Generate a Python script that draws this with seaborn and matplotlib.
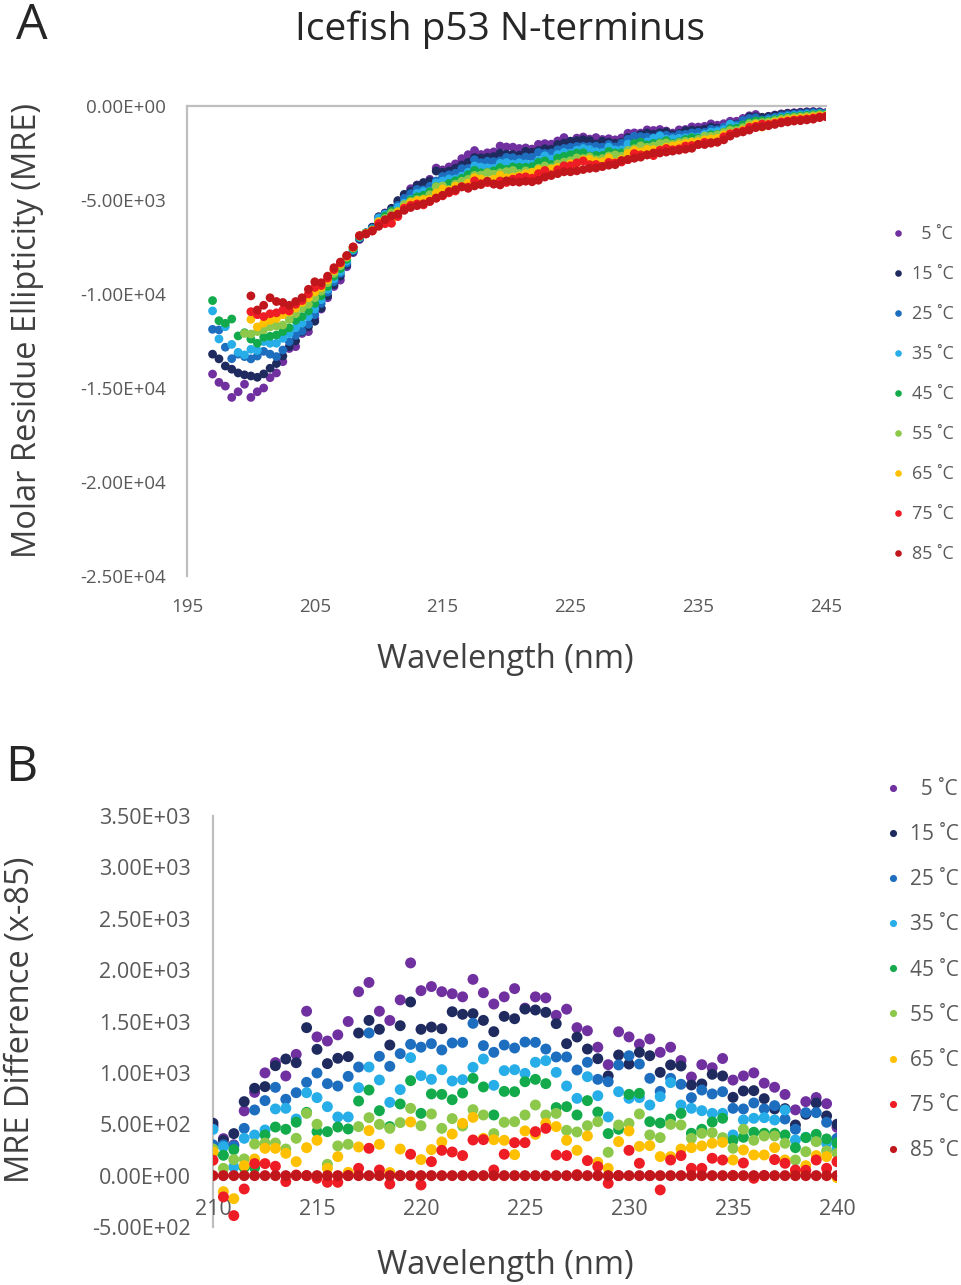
import numpy as np
import pandas as pd
import matplotlib
matplotlib.use("Agg")
import matplotlib.pyplot as plt
import seaborn as sns
from matplotlib.ticker import FuncFormatter, MultipleLocator, FixedLocator

sns.set_theme(style="white")
plt.rcParams["font.family"] = ["Open Sans", "DejaVu Sans"]

# ---------------- data ----------------
temp_labels = ["  5 \u02daC", "15 \u02daC", "25 \u02daC", "35 \u02daC", "45 \u02daC",
               "55 \u02daC", "65 \u02daC", "75 \u02daC", "85 \u02daC"]
colors = ["#7030A0", "#1F2A5E", "#1E6EC0", "#27AEE8", "#12AA4A",
          "#8DC84A", "#FFC000", "#EE1C24", "#C0161C"]

wl_a = np.arange(197.0, 245.01, 0.5)   # scan grid, panel A
wl_b = np.arange(210.0, 240.01, 0.5)   # scan grid, panel B
xticks_a = [195, 205, 215, 225, 235, 245]

N = np.nan
# Panel A: molar residue ellipticity, units of 1e3
mre_5 = [-14.26, -14.70, -14.90, -15.50, -15.20, -14.80, -15.50, -15.20, -15.00, -14.45,
         -14.20, -13.60, -12.90, -12.80, -12.10, -12.00, -11.30, -10.80, -10.20, -9.60,
         -9.26, -8.55, -7.80, -7.10, -6.80, -6.45, -5.92, -5.69, -5.55, -5.12,
         -4.74, -4.40, -4.20, -4.23, -3.90, -3.30, -3.40, -3.24, -3.08, -2.80,
         -2.59, -2.37, -2.58, -2.49, -2.44, -2.13, -2.18, -2.19, -2.26, -2.23,
         -2.29, -2.04, -2.00, -2.03, -1.86, -1.68, -1.87, -1.71, -1.65, -1.76,
         -1.68, -1.78, -1.74, -1.80, -1.70, -1.45, -1.43, -1.44, -1.27, -1.30,
         -1.25, -1.33, -1.44, -1.27, -1.25, -1.11, -1.12, -1.08, -0.95, -1.02,
         -0.94, -0.81, -0.81, -0.66, -0.52, -0.45, -0.63, -0.55, -0.48, -0.42,
         -0.38, -0.36, -0.33, -0.31, -0.30, -0.31, -0.35]
mre_15 = [-13.20, -13.45, -13.83, -14.00, -14.20, -14.30, -14.36, -14.43, -14.25, -13.95,
          -13.70, -13.30, -12.80, -12.50, -12.00, -11.75, -11.45, -10.75, -10.10, -9.50,
          -9.05, -8.45, -7.75, -7.05, -6.75, -6.45, -5.89, -5.71, -5.44, -5.03,
          -4.70, -4.53, -4.23, -4.07, -3.98, -3.46, -3.52, -3.46, -3.31, -3.14,
          -2.99, -2.74, -2.76, -2.73, -2.69, -2.51, -2.56, -2.58, -2.62, -2.41,
          -2.46, -2.37, -2.27, -2.30, -2.05, -1.97, -1.88, -1.84, -1.79, -1.84,
          -2.02, -1.87, -1.92, -1.98, -1.93, -1.68, -1.69, -1.52, -1.43, -1.50,
          -1.42, -1.38, -1.52, -1.46, -1.31, -1.28, -1.29, -1.23, -1.12, -1.17,
          -1.15, -0.95, -0.96, -0.78, -0.57, -0.57, -0.60, -0.56, -0.50, -0.45,
          -0.40, -0.38, -0.36, -0.33, -0.32, -0.33, -0.38]
mre_25 = [-11.88, -11.91, -12.83, -13.44, -13.20, -13.33, -13.45, -13.30, -13.05, -13.20,
          -13.33, -12.98, -12.53, -12.20, -11.97, -11.61, -11.10, -10.50, -9.90, -9.35,
          -8.90, -8.35, -7.70, -7.00, -6.75, -6.50, -6.10, -5.75, -5.56, -5.29,
          -4.91, -4.67, -4.44, -4.46, -4.27, -3.99, -3.75, -3.66, -3.58, -3.33,
          -3.32, -2.86, -3.02, -2.94, -2.96, -2.92, -2.73, -2.75, -2.83, -2.71,
          -2.73, -2.47, -2.52, -2.50, -2.33, -2.26, -2.20, -2.15, -2.15, -2.16,
          -2.14, -2.19, -2.05, -2.18, -1.99, -1.77, -1.61, -1.63, -1.65, -1.68,
          -1.55, -1.56, -1.64, -1.52, -1.51, -1.43, -1.40, -1.40, -1.24, -1.27,
          -1.12, -1.05, -1.00, -0.77, -0.67, -0.63, -0.74, -0.66, -0.60, -0.52,
          -0.47, -0.44, -0.41, -0.38, -0.36, -0.36, -0.40]
mre_35 = [-10.90, -12.39, -11.74, -12.68, -13.10, -13.24, -12.94, -13.00, -12.53, -12.62,
          -12.62, -12.36, -12.10, -11.80, -11.55, -11.20, -10.80, -10.30, -9.75, -9.20,
          -8.80, -8.25, -7.65, -7.00, -6.75, -6.55, -5.95, -5.77, -5.77, -5.39,
          -5.16, -4.96, -4.65, -4.55, -4.53, -4.09, -3.99, -3.88, -3.88, -3.73,
          -3.52, -3.19, -3.25, -3.29, -3.31, -3.05, -3.01, -3.09, -3.02, -3.08,
          -3.10, -2.90, -2.65, -2.82, -2.58, -2.47, -2.51, -2.35, -2.26, -2.32,
          -2.43, -2.47, -2.19, -2.34, -2.33, -2.03, -2.03, -1.96, -1.91, -1.73,
          -1.60, -1.76, -1.75, -1.72, -1.69, -1.64, -1.65, -1.51, -1.39, -1.36,
          -1.26, -0.96, -1.10, -1.01, -0.94, -0.84, -0.83, -0.76, -0.69, -0.61,
          -0.55, -0.51, -0.48, -0.45, -0.42, -0.40, -0.42]
mre_45 = [-10.35, -11.42, -11.56, -11.33, -12.23, -12.06, -12.40, -12.62, -12.30, -12.25,
          -12.18, -12.00, -11.80, -11.40, -11.20, -10.90, -10.50, -10.10, -9.60, -9.05,
          -8.65, -8.15, -7.60, -6.95, -6.75, -6.58, -6.18, -5.85, -5.60, -5.67,
          -5.47, -5.00, -4.83, -4.75, -4.56, -4.28, -4.32, -4.12, -3.98, -3.85,
          -3.65, -3.42, -3.55, -3.52, -3.45, -3.28, -3.37, -3.24, -3.26, -3.26,
          -3.23, -3.00, -2.92, -3.11, -2.78, -2.68, -2.59, -2.51, -2.49, -2.66,
          -2.63, -2.63, -2.42, -2.50, -2.49, -2.40, -1.99, -1.92, -2.08, -1.99,
          -1.95, -1.84, -1.99, -1.90, -1.78, -1.69, -1.71, -1.68, -1.53, -1.51,
          -1.39, -1.20, -1.18, -1.01, -0.88, -0.79, -0.78, -0.80, -0.72, -0.66,
          -0.60, -0.56, -0.53, -0.50, -0.46, -0.43, -0.45]
mre_55 = [N, N, N, N, N, -12.10, -12.13, -12.00, -11.90, -11.75,
          -11.70, -11.65, -11.35, -11.05, -10.75, -10.55, -10.20, -9.85, -9.40, -8.90,
          -8.50, -8.05, -7.55, -6.92, -6.77, -6.60, -6.14, -5.98, -5.69, -5.59,
          -5.24, -5.08, -4.98, -4.94, -4.72, -4.29, -4.25, -4.44, -4.16, -4.00,
          -3.90, -3.69, -3.68, -3.54, -3.63, -3.55, -3.49, -3.43, -3.59, -3.45,
          -3.55, -3.31, -3.19, -3.29, -3.08, -2.98, -2.91, -2.76, -2.79, -2.71,
          -2.86, -2.80, -2.66, -2.60, -2.67, -2.36, -2.27, -2.12, -2.20, -2.13,
          -2.00, -1.96, -2.04, -1.94, -1.88, -1.88, -1.78, -1.60, -1.61, -1.53,
          -1.41, -1.29, -1.30, -1.15, -0.95, -0.91, -0.88, -0.85, -0.78, -0.71,
          -0.65, -0.61, -0.58, -0.55, -0.51, -0.47, -0.48]
mre_65 = [N, N, N, N, N, N, -11.35, -11.75, -11.55, -11.40,
          -11.30, -11.10, -10.95, -10.75, -10.45, -10.20, -9.90, -9.65, -9.25, -8.75,
          -8.40, -8.00, -7.52, -6.90, -6.78, -6.62, -6.17, -6.21, -6.07, -5.65,
          -5.39, -5.13, -5.03, -4.98, -4.94, -4.63, -4.41, -4.48, -4.27, -4.27,
          -4.10, -3.81, -3.88, -3.97, -3.89, -3.68, -3.82, -3.78, -3.72, -3.60,
          -3.52, -3.38, -3.42, -3.35, -3.26, -3.30, -3.07, -3.05, -2.87, -2.84,
          -2.96, -2.97, -2.76, -2.99, -2.83, -2.52, -2.35, -2.44, -2.31, -2.32,
          -2.32, -2.19, -2.13, -2.06, -1.99, -1.93, -1.90, -1.80, -1.75, -1.72,
          -1.53, -1.45, -1.41, -1.28, -1.09, -0.97, -1.12, -0.95, -0.87, -0.80,
          -0.74, -0.69, -0.66, -0.63, -0.58, -0.53, -0.52]
mre_75 = [N, N, N, N, N, N, -10.94, -11.10, -11.20, -11.05,
          -11.00, -10.85, -10.90, -10.55, -10.35, -10.00, -9.65, -9.55, -9.15, -8.70,
          -8.35, -7.98, -7.50, -6.90, -6.80, -6.64, -6.25, -6.26, -6.24, -5.88,
          -5.43, -5.28, -5.21, -5.26, -5.07, -4.90, -4.78, -4.62, -4.52, -4.30,
          -4.31, -3.98, -4.13, -4.08, -4.15, -3.99, -4.07, -3.89, -3.80, -3.77,
          -3.84, -3.60, -3.43, -3.65, -3.39, -3.18, -3.18, -3.02, -2.92, -3.12,
          -3.11, -3.21, -3.00, -3.03, -2.98, -2.85, -2.53, -2.60, -2.60, -2.64,
          -2.35, -2.26, -2.33, -2.28, -2.13, -2.10, -2.05, -1.93, -1.98, -1.92,
          -1.64, -1.48, -1.40, -1.33, -1.13, -1.08, -0.96, -0.98, -0.92, -0.85,
          -0.80, -0.75, -0.72, -0.69, -0.64, -0.58, -0.55]
mre_85 = [N, N, N, N, N, N, -10.10, -10.85, -10.60, -10.20,
          -10.40, -10.45, -10.60, -10.40, -10.20, -9.75, -9.35, -9.40, -9.05, -8.60,
          -8.30, -7.95, -7.50, -6.90, -6.80, -6.65, -6.40, -6.05, -5.85, -5.75,
          -5.55, -5.40, -5.30, -5.20, -5.08, -4.90, -4.75, -4.55, -4.45, -4.30,
          -4.38, -4.25, -4.18, -4.00, -4.15, -4.20, -3.98, -4.03, -4.05, -4.00,
          -4.03, -3.95, -3.78, -3.70, -3.60, -3.50, -3.50, -3.45, -3.38, -3.32,
          -3.30, -3.22, -3.15, -3.12, -2.90, -2.85, -2.78, -2.72, -2.60, -2.50,
          -2.50, -2.45, -2.40, -2.35, -2.30, -2.25, -2.05, -2.05, -1.95, -1.92,
          -1.80, -1.60, -1.45, -1.38, -1.28, -1.15, -1.10, -1.05, -0.98, -0.90,
          -0.85, -0.80, -0.78, -0.74, -0.70, -0.62, -0.57]

# Panel B: MRE difference to 85 C
diff_5 = [480, 360, 300, 630, 810, 1000, 1100, 970, 1180, 1600,
          1350, 1310, 1370, 1500, 1790, 1880, 1600, 1510, 1710, 2070,
          1800, 1840, 1790, 1770, 1740, 1910, 1780, 1670, 1740, 1820,
          1630, 1740, 1730, 1560, 1620, 1440, 1410, 1250, 1080, 1400,
          1350, 1280, 1330, 1200, 1250, 1120, 960, 1080, 1050, 1140,
          930, 970, 1000, 900, 860, 790, 640, 720, 760, 700,
          470]
diff_15 = [510, 344, 409, 720, 850, 866, 1070, 1135, 1099, 1440,
           1229, 1090, 1142, 1158, 1388, 1511, 1424, 1271, 1459, 1690,
           1424, 1446, 1430, 1595, 1570, 1576, 1511, 1401, 1550, 1527,
           1621, 1612, 1589, 1479, 1284, 1349, 1232, 1138, 970, 1174,
           1086, 1200, 1167, 1005, 1077, 1067, 882, 892, 986, 970,
           762, 824, 827, 749, 649, 652, 493, 597, 707, 581,
           500]
diff_25 = [300, 300, 290, 460, 639, 730, 859, 743, 807, 908,
           999, 895, 872, 966, 1057, 1388, 1161, 1064, 1187, 1278,
           1250, 1284, 1223, 1291, 1297, 1482, 1265, 1200, 1271, 1242,
           1300, 1297, 1232, 1155, 1155, 1028, 1103, 937, 914, 1077,
           1167, 1086, 947, 820, 947, 889, 759, 833, 795, 817,
           655, 649, 707, 649, 681, 551, 451, 613, 613, 519,
           363]
diff_35 = [450, 282, 84, 363, 395, 444, 649, 655, 551, 807,
           759, 671, 571, 571, 856, 1057, 931, 713, 837, 1148,
           973, 937, 1031, 921, 934, 1054, 1135, 879, 1022, 1031,
           995, 1103, 1119, 1005, 872, 752, 963, 778, 571, 817,
           752, 759, 687, 769, 905, 687, 655, 632, 606, 606,
           396, 542, 558, 564, 542, 639, 347, 373, 337, 315,
           266]
diff_45 = [220, 198, 253, 78, 78, 396, 473, 451, 520, 616,
           428, 428, 473, 454, 726, 833, 632, 477, 697, 924,
           606, 795, 791, 739, 804, 947, 863, 590, 820, 817,
           914, 937, 895, 662, 671, 590, 730, 619, 409, 451,
           791, 801, 525, 512, 551, 606, 412, 451, 522, 558,
           344, 373, 422, 412, 412, 396, 272, 370, 402, 357,
           318]
diff_55 = [260, 71, 156, 162, 308, 318, 318, 259, 363, 606,
           500, 110, 289, 305, 477, 564, 499, 460, 516, 655,
           486, 600, 460, 555, 483, 642, 590, 409, 519, 525,
           590, 687, 590, 606, 441, 425, 486, 525, 227, 493,
           509, 600, 396, 370, 499, 493, 363, 412, 418, 370,
           266, 451, 344, 386, 386, 315, 152, 233, 331, 240,
           217]
diff_65 = [230, -156, -224, 97, 162, 266, 266, 217, 136, 272,
           344, 71, 185, 32, 279, 438, 305, 30, 259, 522,
           156, 253, 328, 405, 509, 567, 363, 350, 344, 204,
           435, 402, 509, 477, 344, 246, 386, 130, 71, 331,
           435, 285, 292, 185, 185, 259, 272, 289, 315, 324,
           152, 250, 201, 201, 272, 152, 39, 97, 195, 185,
           -19]
diff_75 = [150, -207, -389, -130, 117, 117, 91, -58, 6, 0,
           -26, -65, -65, 0, 71, 266, 55, -81, 0, 208,
           -91, 136, 246, 230, 195, 347, 350, 55, 208, 321,
           321, 428, 460, 201, 195, 10, 146, 88, -75, 0,
           246, 120, 0, -139, 152, 195, 71, 71, 169, 152,
           0, 123, -26, 0, 156, 120, 55, 52, 152, 71,
           136]
diff_85 = [0] * 61   # reference minus itself

mre_series = [mre_5, mre_15, mre_25, mre_35, mre_45, mre_55, mre_65, mre_75, mre_85]
diff_series = [diff_5, diff_15, diff_25, diff_35, diff_45, diff_55, diff_65, diff_75, diff_85]

df_a = pd.concat([pd.DataFrame({"wl": wl_a, "mre": np.array(v) * 1000.0, "T": lab})
                  for v, lab in zip(mre_series, temp_labels)]).dropna()
df_b = pd.concat([pd.DataFrame({"wl": wl_b, "diff": np.array(v, dtype=float), "T": lab})
                  for v, lab in zip(diff_series, temp_labels)])

# ---------------- figure ----------------
W, H = 962, 1285
fig = plt.figure(figsize=(W / 100, H / 100), dpi=100)
tick_col = "#595959"
lab_col = "#404040"
spine_col = "#BFBFBF"
fmt = FuncFormatter(lambda v, p: f"{v:.2E}")

def px_axes(x0, y0, x1, y1):
    return fig.add_axes([x0 / W, 1 - y1 / H, (x1 - x0) / W, (y1 - y0) / H])

# ---- Panel A ----
axA = px_axes(187, 106, 826, 576)
sns.scatterplot(data=df_a, x="wl", y="mre", hue="T", hue_order=temp_labels,
                palette=colors, s=40, linewidth=0, ax=axA, legend=True, zorder=3)
axA.set_xlim(195, 245)
axA.set_ylim(-25000, 0)
axA.xaxis.set_major_locator(FixedLocator(xticks_a))
axA.yaxis.set_major_locator(MultipleLocator(5000))
axA.yaxis.set_major_formatter(fmt)
for s in ["right", "bottom"]:
    axA.spines[s].set_visible(False)
for s in ["left", "top"]:
    axA.spines[s].set_color(spine_col)
    axA.spines[s].set_linewidth(1.6)
    axA.spines[s].set_zorder(0.5)
axA.tick_params(axis="both", length=0, colors=tick_col, labelsize=13.5)
axA.tick_params(axis="x", pad=16)
axA.tick_params(axis="y", pad=15)
axA.set_xlabel("Wavelength (nm)", fontsize=23.5, color=lab_col)
axA.set_ylabel("Molar Residue Ellipticity (MRE)", fontsize=23.5, color=lab_col)
axA.xaxis.label.set_va("center")
axA.yaxis.label.set_va("center")
axA.xaxis.set_label_coords((505 - 187) / 639, -(660 - 576) / 470)
axA.yaxis.set_label_coords(-(187 - 27) / 639, (576 - 330) / 470)
h, l = axA.get_legend_handles_labels()
axA.legend(h, l, loc="center left", bbox_to_anchor=(889 / W, 1 - 394 / H),
           bbox_transform=fig.transFigure, frameon=False, fontsize=13,
           labelspacing=1.22, handlelength=1.0, handletextpad=0.3, borderpad=0,
           borderaxespad=0, labelcolor=tick_col, markerscale=0.75)

# ---- Panel B ----
axB = px_axes(213, 816, 837, 1227)
sns.scatterplot(data=df_b, x="wl", y="diff", hue="T", hue_order=temp_labels,
                palette=colors, s=62, linewidth=0, ax=axB, legend=True, zorder=3)
axB.set_xlim(210, 240)
axB.set_ylim(-500, 3500)
axB.xaxis.set_major_locator(MultipleLocator(5))
axB.yaxis.set_major_locator(MultipleLocator(500))
axB.yaxis.set_major_formatter(fmt)
for s in ["right", "top"]:
    axB.spines[s].set_visible(False)
axB.spines["bottom"].set_position(("data", 0))
axB.spines["bottom"].set_color(spine_col)
axB.spines["bottom"].set_linewidth(1.2)
axB.spines["bottom"].set_zorder(0.5)
axB.spines["left"].set_color(spine_col)
axB.spines["left"].set_linewidth(1.6)
axB.spines["left"].set_zorder(0.5)
axB.tick_params(axis="both", length=0, colors=tick_col, labelsize=15.5)
axB.tick_params(axis="x", pad=17)
axB.tick_params(axis="y", pad=16)
axB.set_xlabel("Wavelength (nm)", fontsize=23.5, color=lab_col)
axB.set_ylabel("MRE Difference (x-85)", fontsize=23.5, color=lab_col)
axB.xaxis.label.set_va("center")
axB.yaxis.label.set_va("center")
axB.xaxis.set_label_coords((505 - 213) / 624, -(1265 - 1227) / 411)
axB.yaxis.set_label_coords(-(213 - 20) / 624, (1227 - 1020) / 411)
h, l = axB.get_legend_handles_labels()
axB.legend(h, l, loc="center left", bbox_to_anchor=(883 / W, 1 - 970 / H),
           bbox_transform=fig.transFigure, frameon=False, fontsize=15,
           labelspacing=1.16, handlelength=1.0, handletextpad=0.3, borderpad=0,
           borderaxespad=0, labelcolor=tick_col, markerscale=0.65)

# ---- titles ----
fig.text(500 / W, 1 - 30 / H, "Icefish p53 N-terminus", fontsize=28, color="#262626",
         ha="center", va="center")
fig.text(32 / W, 1 - 26 / H, "A", fontsize=36, color="#262626", ha="center", va="center")
fig.text(21 / W, 1 - 768 / H, "B", fontsize=36, color="#262626", ha="center", va="center")

fig.savefig("out.png", dpi=100, facecolor="white")
